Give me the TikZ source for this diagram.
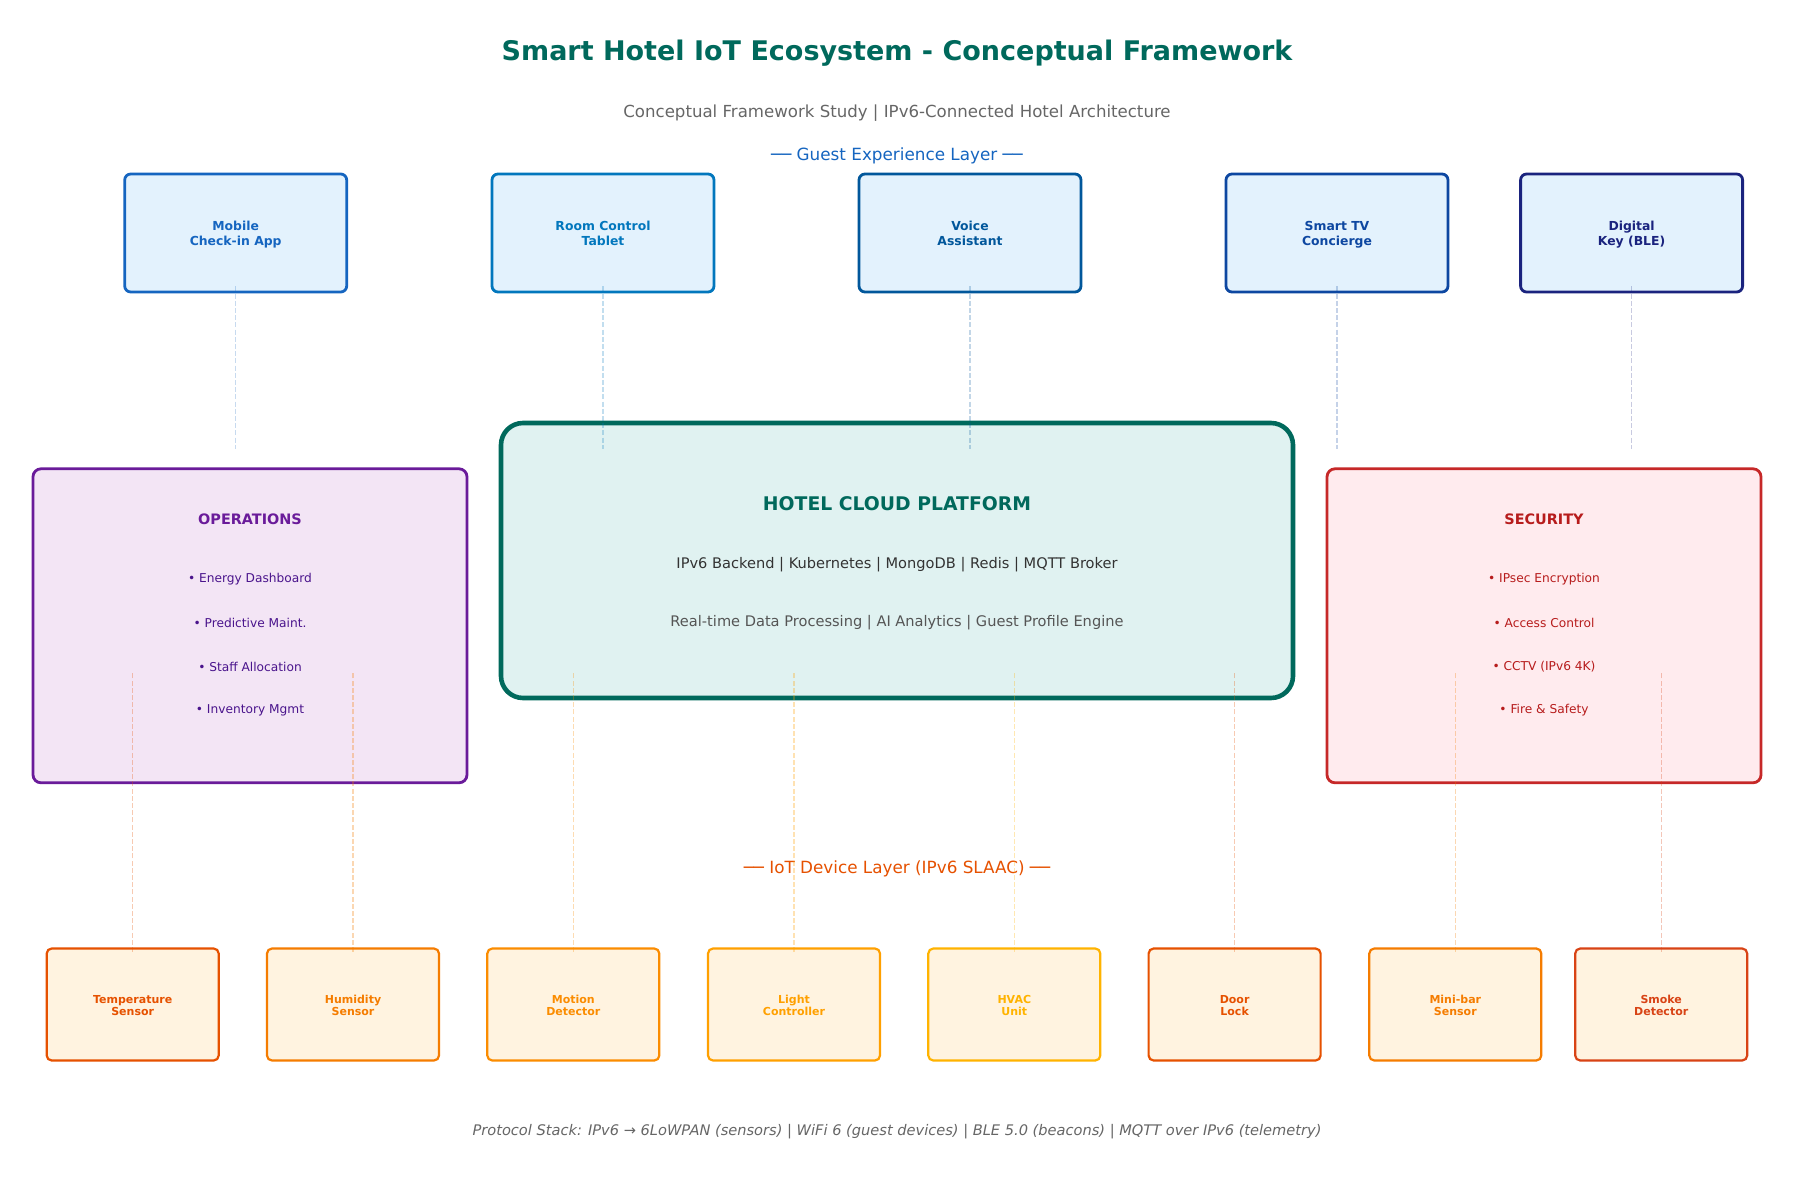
\documentclass[tikz,border=0pt]{standalone}
\usepackage{fontspec}
\setmainfont{DejaVu Sans}
\usetikzlibrary{positioning}
\definecolor{ttl}{HTML}{00695C}
\definecolor{subg}{HTML}{666666}
\definecolor{gblue}{HTML}{1565C0}
\definecolor{g1}{HTML}{1565C0}
\definecolor{g2}{HTML}{0277BD}
\definecolor{g3}{HTML}{01579B}
\definecolor{g4}{HTML}{0D47A1}
\definecolor{g5}{HTML}{1A237E}
\definecolor{gfill}{HTML}{E3F2FD}
\definecolor{cfill}{HTML}{E0F2F1}
\definecolor{opfill}{HTML}{F3E5F5}
\definecolor{opline}{HTML}{6A1B9A}
\definecolor{optext}{HTML}{4A148C}
\definecolor{secfill}{HTML}{FFEBEE}
\definecolor{secline}{HTML}{C62828}
\definecolor{sectext}{HTML}{B71C1C}
\definecolor{dfill}{HTML}{FFF3E0}
\definecolor{d1}{HTML}{E65100}
\definecolor{d2}{HTML}{F57C00}
\definecolor{d3}{HTML}{FB8C00}
\definecolor{d4}{HTML}{FFA000}
\definecolor{d5}{HTML}{FFB300}
\definecolor{d6}{HTML}{E65100}
\definecolor{d7}{HTML}{F57C00}
\definecolor{d8}{HTML}{D84315}
\definecolor{iotc}{HTML}{E65100}
\definecolor{foot}{HTML}{666666}
\definecolor{dark}{HTML}{333333}
\definecolor{mid}{HTML}{555555}
\newcommand{\twol}[2]{#1\rule{0pt}{\dimexpr0.7\baselineskip+2.3pt\relax}\\#2\strut}
\tikzset{
  guestbox/.style={draw=#1, fill=gfill, line width=1.4pt, rounded corners=3pt,
    minimum width=111pt, minimum height=59pt, inner sep=0pt, align=center,
    text=#1, font=\fontsize{6.2}{7.4}\selectfont\bfseries},
  devbox/.style={draw=#1, fill=dfill, line width=1.1pt, rounded corners=2.5pt,
    minimum width=86pt, minimum height=56pt, inner sep=0pt, align=center,
    text=#1, font=\fontsize{5.5}{6}\selectfont\bfseries},
  sidebox/.style={line width=1.4pt, rounded corners=4pt,
    minimum width=217pt, minimum height=157pt, inner sep=0pt},
  link/.style={draw=#1, opacity=0.3, line width=0.6pt, dash pattern=on 2.5pt off 1.1pt},
  glinkst/.style={link=#1, opacity=0.24},
  itemtxt/.style={font=\fontsize{6.1}{7}\selectfont, text=#1},
}
\begin{document}
\begin{tikzpicture}[x=0.5pt, y=-0.5pt]
\useasboundingbox (0,0) rectangle (1794,1194);
\fill[white] (0,0) rectangle (1794,1194);

% titles
\node[font=\fontsize{13.5}{16}\selectfont\bfseries, text=ttl] (title) at (897,53.5) {Smart Hotel IoT Ecosystem - Conceptual Framework};
\node[font=\fontsize{8.3}{10}\selectfont, text=subg] (sub) at (897,113) {Conceptual Framework Study | IPv6-Connected Hotel Architecture};
\node[font=\fontsize{8.4}{10}\selectfont, text=gblue] (glabel) at (897,156) {── Guest Experience Layer ──};

% guest boxes
\node[guestbox=g1] (mob) at (235.7,233) {\twol{Mobile}{Check-in App}};
\node[guestbox=g2] (rct) at (603,233) {\twol{Room Control}{Tablet}};
\node[guestbox=g3] (voi) at (970,233) {\twol{Voice}{Assistant}};
\node[guestbox=g4] (stv) at (1337,233) {\twol{Smart TV}{Concierge}};
\node[guestbox=g5] (dkey) at (1631.6,233) {\twol{Digital}{Key (BLE)}};

% cloud platform
\node[draw=ttl, fill=cfill, line width=2.3pt, rounded corners=11pt,
      minimum width=396pt, minimum height=137.5pt, inner sep=0pt] (cloud) at (897,560.5) {};
\node[font=\fontsize{9.4}{11}\selectfont\bfseries, text=ttl] (cloudt) at (897,504) {HOTEL CLOUD PLATFORM};
\node[font=\fontsize{7.3}{9}\selectfont, text=dark] (cloud2) at (897,565) {IPv6 Backend | Kubernetes | MongoDB | Redis | MQTT Broker};
\node[font=\fontsize{7.3}{9}\selectfont, text=mid] (cloud3) at (897,622.5) {Real-time Data Processing | AI Analytics | Guest Profile Engine};

% operations
\node[sidebox, draw=opline, fill=opfill] (ops) at (250,625.8) {};
\node[font=\fontsize{7.2}{9}\selectfont\bfseries, text=opline] (opst) at (250,519) {OPERATIONS};
\node[itemtxt=optext] (op1) at (250,579.5) {• Energy Dashboard};
\node[itemtxt=optext] (op2) at (250,623) {• Predictive Maint.};
\node[itemtxt=optext] (op3) at (250,666.5) {• Staff Allocation};
\node[itemtxt=optext] (op4) at (250,710) {• Inventory Mgmt};

% security
\node[sidebox, draw=secline, fill=secfill] (sec) at (1544,625.8) {};
\node[font=\fontsize{7.2}{9}\selectfont\bfseries, text=sectext] (sect) at (1544,519) {SECURITY};
\node[itemtxt=sectext] (sc1) at (1544,579.5) {• IPsec Encryption};
\node[itemtxt=sectext] (sc2) at (1544,623) {• Access Control};
\node[itemtxt=sectext] (sc3) at (1544,666.5) {• CCTV (IPv6 4K)};
\node[itemtxt=sectext] (sc4) at (1544,710) {• Fire \& Safety};

% IoT label
\node[font=\fontsize{8.4}{10}\selectfont, text=iotc] (iotl) at (897,869) {── IoT Device Layer (IPv6 SLAAC) ──};

% devices
\node[devbox=d1] (dv1) at (132.7,1004.5) {\twol{Temperature}{Sensor}};
\node[devbox=d2] (dv2) at (353,1004.5) {\twol{Humidity}{Sensor}};
\node[devbox=d3] (dv3) at (573.3,1004.5) {\twol{Motion}{Detector}};
\node[devbox=d4] (dv4) at (794,1004.5) {\twol{Light}{Controller}};
\node[devbox=d5] (dv5) at (1014.3,1004.5) {\twol{HVAC}{Unit}};
\node[devbox=d6] (dv6) at (1234.6,1004.5) {\twol{Door}{Lock}};
\node[devbox=d7] (dv7) at (1455.3,1004.5) {\twol{Mini-bar}{Sensor}};
\node[devbox=d8] (dv8) at (1661.2,1004.5) {\twol{Smoke}{Detector}};

% guest links
\foreach \n/\c in {mob/g1,rct/g2,voi/g3,stv/g4,dkey/g5}{
  \coordinate (\n-a) at ([yshift=3.5pt]\n.south);
  \coordinate (\n-b) at ([yshift=-78pt]\n.south);
  \draw[glinkst=\c] (\n-a) -- (\n-b);
}
% device links
\foreach \n/\c in {dv1/d1,dv2/d2,dv3/d3,dv4/d4,dv5/d5,dv6/d6,dv7/d7,dv8/d8}{
  \coordinate (\n-a) at ([yshift=-2.25pt]\n.north);
  \coordinate (\n-b) at ([yshift=137.5pt]\n.north);
  \draw[link=\c] (\n-a) -- (\n-b);
}

% footer
\node[font=\fontsize{7.3}{9}\selectfont\itshape, text=foot] (footer) at (897,1132) {Protocol Stack: IPv6 → 6LoWPAN (sensors) | WiFi 6 (guest devices) | BLE 5.0 (beacons) | MQTT over IPv6 (telemetry)};
\end{tikzpicture}
\end{document}
